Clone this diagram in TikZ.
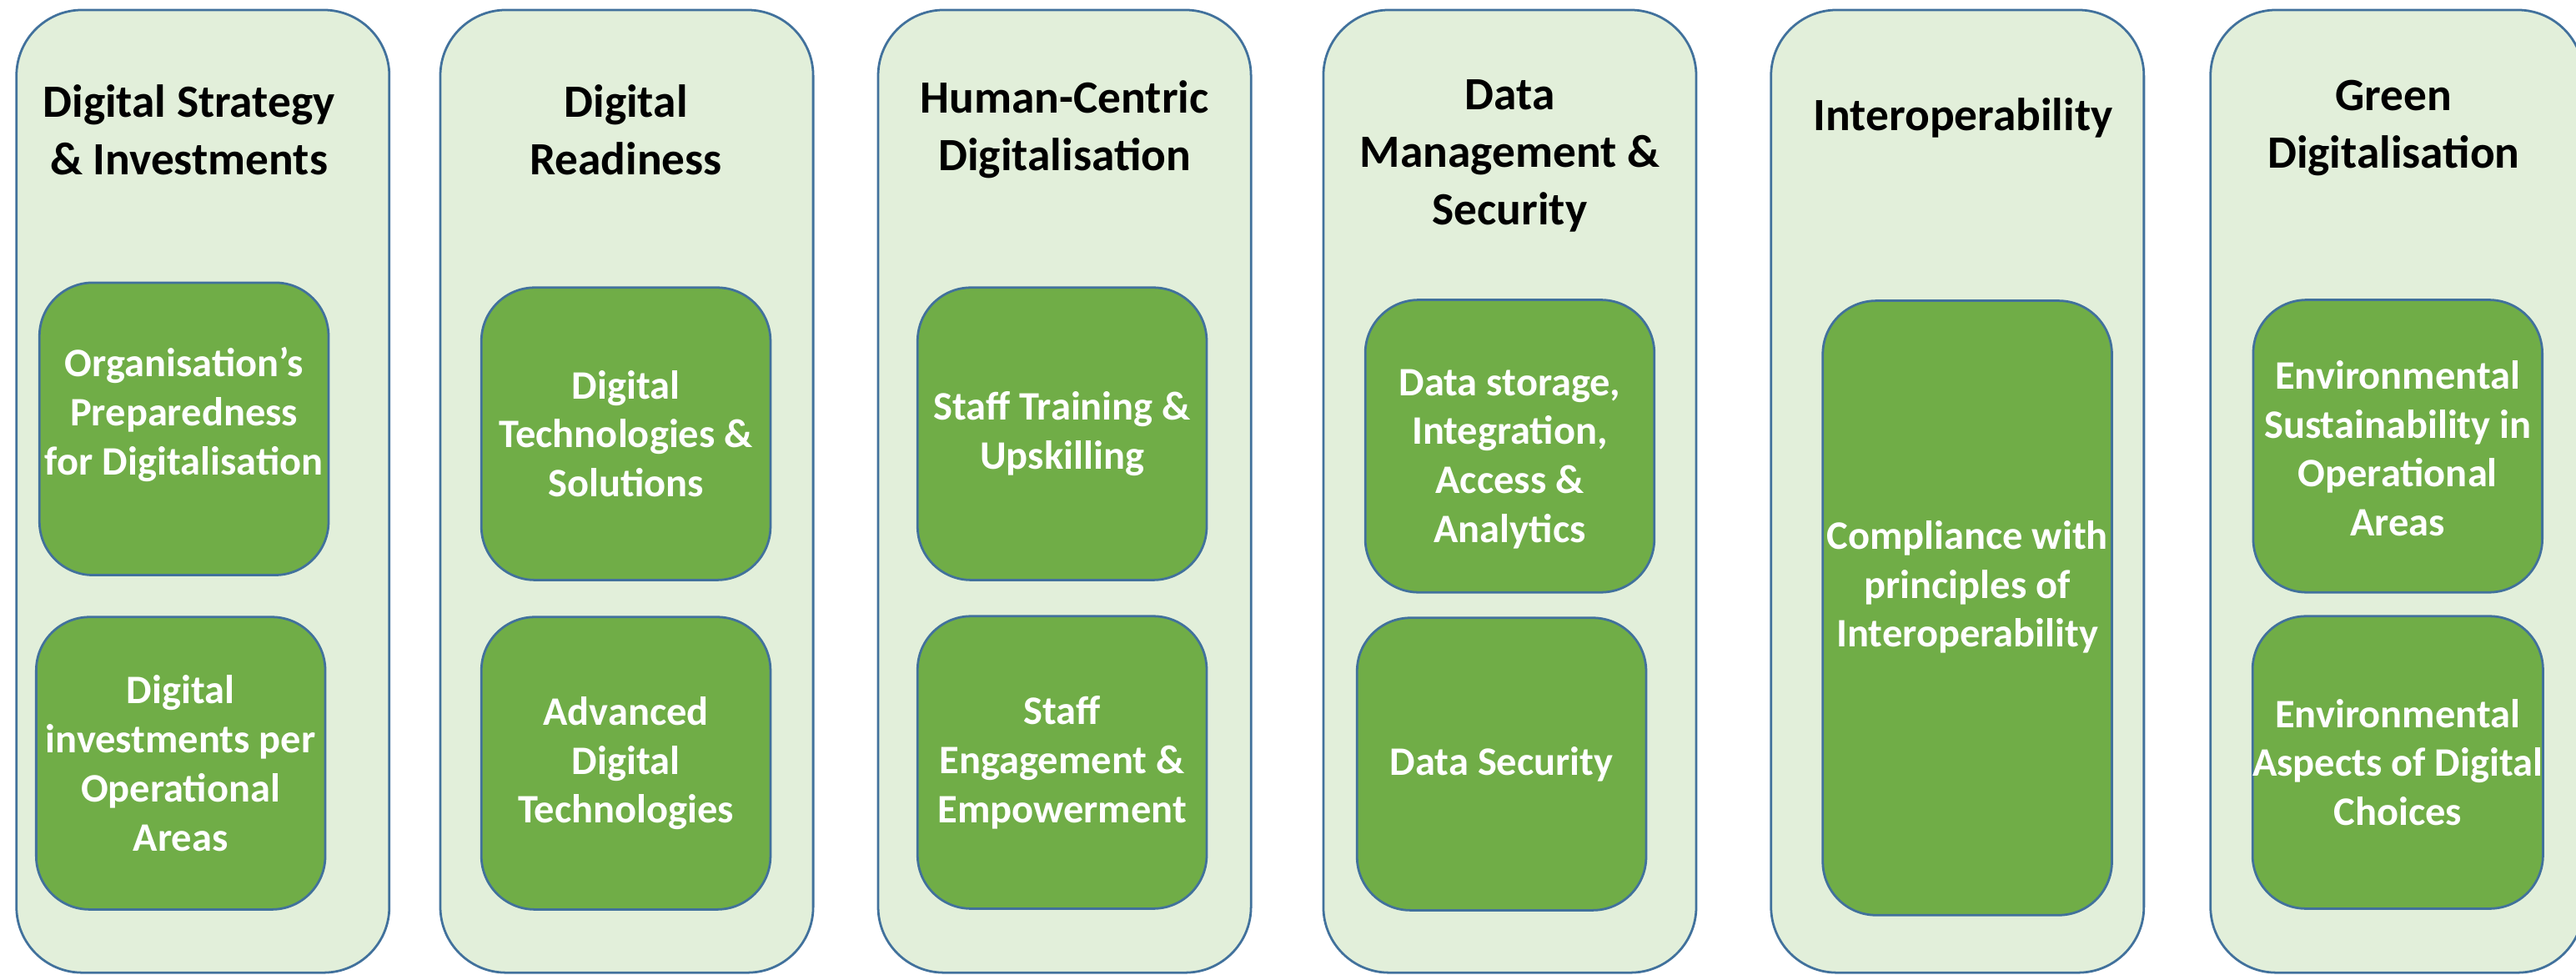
\documentclass[tikz,border=0pt]{standalone}
\usepackage{fontspec}
\setmainfont{Carlito}
\usetikzlibrary{positioning}
\definecolor{paleGreen}{HTML}{E2EFDA}
\definecolor{leafGreen}{HTML}{70AD47}
\definecolor{edgeBlue}{HTML}{41719C}
\tikzset{
    pillar/.style = {draw=edgeBlue, fill=paleGreen, line width=0.8pt, rounded corners=0.8cm,
                     minimum width=4.54cm, minimum height=11.72cm, inner sep=0pt},
    heading/.style = {align=center, inner sep=0pt, font=\bfseries\fontsize{16}{20}\selectfont},
    item/.style = {draw=edgeBlue, fill=leafGreen, line width=0.8pt, rounded corners=0.65cm,
                   minimum width=3.52cm, minimum height=3.56cm, inner sep=0pt,
                   text=white, align=center, font=\bfseries\fontsize{14}{17}\selectfont},
}
% text set a little off the middle of its box
\newcommand{\liftlines}[2]{\raisebox{#1}[\height][\depth]{\begin{tabular}{@{}c@{}}#2\end{tabular}}}

\begin{document}
\begin{tikzpicture}[x=0.02cm, y=-0.02cm]
    \useasboundingbox (0,0) rectangle (1568,593);

    % the six pillars
    \node (strat)   [pillar] at (123.5,299) {};
    \node (ready)   [pillar] at (381.5,299) {};
    \node (human)   [pillar] at (648,299) {};
    \node (data)    [pillar] at (919,299) {};
    \node (interop) [pillar] at (1191.5,299) {};
    \node (green)   [pillar] at (1459,299) {};

    % headings
    \node (stratT)   [heading] at (115,79) {Digital Strategy\\\& Investments};
    \node (readyT)   [heading] at (381,79) {Digital\\Readiness};
    \node (humanT)   [heading] at (648,79) {Human-Centric\\Digitalisation};
    \node (dataT)    [heading] at (919,95) {Data\\Management \&\\Security};
    \node (interopT) [heading] at (1195,72) {Interoperability};
    \node (greenT)   [heading] at (1457,78) {Green\\Digitalisation};

    % sub-areas
    \node (prep)   [item] at (112,261)   {\liftlines{0.16cm}{Organisation’s\\Preparedness\\for Digitalisation}};
    \node (invest) [item] at (110,464.5) {Digital\\investments per\\Operational\\Areas};
    \node (tech)   [item] at (381,264)   {Digital\\Technologies \&\\Solutions};
    \node (adv)    [item] at (381,464.5) {Advanced\\Digital\\Technologies};
    \node (train)  [item] at (646.5,264) {Staff Training \&\\Upskilling};
    \node (engage) [item] at (646.5,464) {Staff\\Engagement \&\\Empowerment};
    \node (store)  [item] at (919,271.5) {\liftlines{-0.16cm}{Data storage,\\Integration,\\Access \&\\Analytics}};
    \node (secure) [item] at (914,465)   {Data Security};
    \node (comply) [item, minimum height=7.48cm] at (1197.5,370) {\liftlines{0.24cm}{Compliance with\\principles of\\Interoperability}};
    \node (sustain)[item] at (1459.5,271.5) {\liftlines{-0.08cm}{Environmental\\Sustainability in\\Operational\\Areas}};
    \node (aspect) [item] at (1459.5,464) {Environmental\\Aspects of Digital\\Choices};
\end{tikzpicture}
\end{document}
